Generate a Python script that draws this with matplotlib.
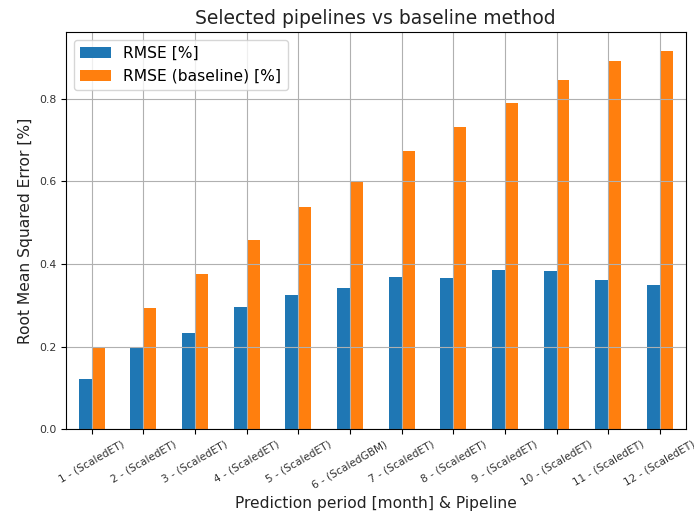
import matplotlib
matplotlib.use("Agg")
import matplotlib.pyplot as plt
import numpy as np
import pandas as pd

# Selected pipelines vs baseline, per prediction month.

pipelines = [
    "1 - (ScaledET)", "2 - (ScaledET)", "3 - (ScaledET)", "4 - (ScaledET)",
    "5 - (ScaledET)", "6 - (ScaledGBM)", "7 - (ScaledET)", "8 - (ScaledET)",
    "9 - (ScaledET)", "10 - (ScaledET)", "11 - (ScaledET)", "12 - (ScaledET)",
]
rmse = [0.121, 0.200, 0.234, 0.295, 0.324, 0.341, 0.368, 0.366, 0.385, 0.382, 0.360, 0.350]
rmse_baseline = [0.197, 0.294, 0.376, 0.459, 0.537, 0.602, 0.674, 0.731, 0.791, 0.845, 0.892, 0.916]

df = pd.DataFrame(
    {"RMSE [%]": rmse, "RMSE (baseline) [%]": rmse_baseline}, index=pipelines
)

fig, ax = plt.subplots(figsize=(6.94, 5.17), dpi=100)
plt.subplots_adjust(left=0.095, right=0.988, top=0.938, bottom=0.170)

df.plot.bar(ax=ax, grid=True, rot=30, color=["#1f77b4", "#ff7f0e"])

ax.set_title("Selected pipelines vs baseline method", fontsize=13.5, color="#222222")
ax.set_xlabel("Prediction period [month] & Pipeline", fontsize=11.2, color="#222222")
ax.set_ylabel("Root Mean Squared Error [%]", fontsize=11.2, color="#222222")
ax.tick_params(axis="x", labelsize=7.6, labelcolor="#333333")
ax.tick_params(axis="y", labelsize=7.8, labelcolor="#333333")
ax.legend(loc="upper left", fontsize=11.2)

plt.savefig("out.png", dpi=100)
plt.close()
